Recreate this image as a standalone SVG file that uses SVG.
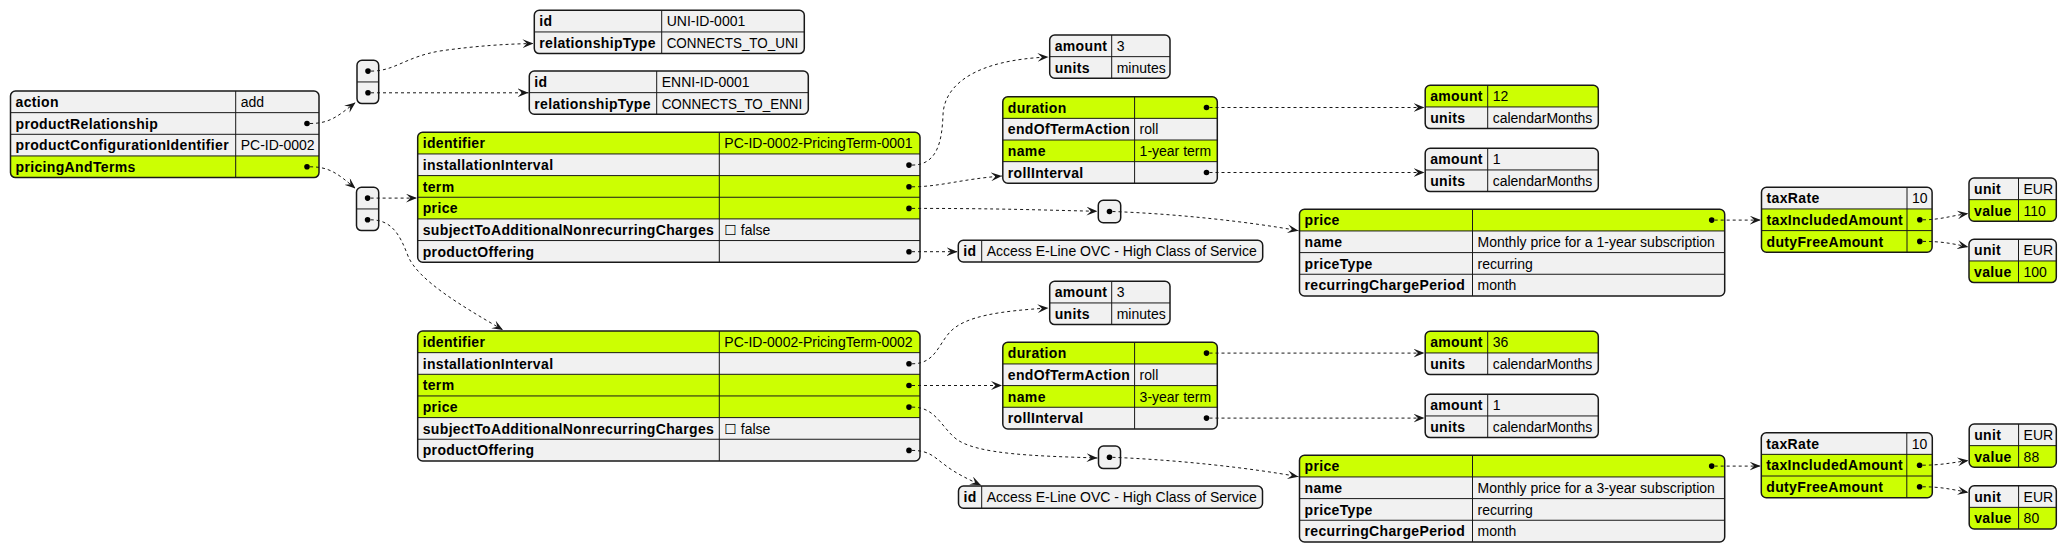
<svg xmlns="http://www.w3.org/2000/svg" width="2067" height="552" viewBox="0 0 2067 552">
<style>
.bx{fill:#F1F1F1;stroke:none}
.fr{fill:none;stroke:#181818;stroke-width:1.5}
.hl{fill:#CCFF02;stroke:none}
.ln{stroke:#181818;stroke-width:1;fill:none}
.k{font-family:"Liberation Sans",Arial,sans-serif;font-size:14px;font-weight:bold;letter-spacing:0.35px;fill:#000}
.v{font-family:"Liberation Sans","DejaVu Sans",Arial,sans-serif;font-size:14px;fill:#000}
.d{fill:#000}
.e{fill:none;stroke:#181818;stroke-width:1;stroke-dasharray:3,3;marker-end:url(#ah)}
</style>
<defs>
<marker id="ah" markerUnits="userSpaceOnUse" markerWidth="11" markerHeight="9" viewBox="0 0 10 8" refX="10" refY="4" orient="auto">
<path d="M0,0 L10,4 L0,8 L4,4 Z" fill="#181818"/>
</marker>
</defs>
<rect width="2067" height="552" fill="#FFFFFF"/>

<!-- root -->
<g id="root">
<rect class="bx" x="10.5" y="91" width="308.5" height="86.6" rx="5"/>
<rect class="hl" x="10.5" y="155.95" width="308.5" height="21.65" rx="5"/><rect class="hl" x="10.5" y="155.95" width="308.5" height="10"/>
<path class="ln" d="M10.5,112.65H319M10.5,134.3H319M10.5,155.95H319M235.7,91V177.6"/>
<rect class="fr" x="10.5" y="91" width="308.5" height="86.6" rx="5"/>
<text class="k" x="15.5" y="107">action</text>
<text class="k" x="15.5" y="128.65">productRelationship</text>
<text class="k" x="15.5" y="150.3">productConfigurationIdentifier</text>
<text class="k" x="15.5" y="171.95">pricingAndTerms</text>
<text class="v" x="240.7" y="107">add</text>
<text class="v" x="240.7" y="150.3">PC-ID-0002</text>
<circle class="d" cx="307" cy="123.5" r="2.8"/>
<circle class="d" cx="307" cy="166.8" r="2.8"/>
</g>

<g id="arrRel">
<rect class="bx" x="357" y="60.3" width="21.7" height="43.3" rx="5"/>
<path class="ln" d="M357,81.95H378.7"/>
<rect class="fr" x="357" y="60.3" width="21.7" height="43.3" rx="5"/>
<circle class="d" cx="368" cy="71.1" r="2.8"/>
<circle class="d" cx="368" cy="92.8" r="2.8"/>
</g>

<g id="arrPT">
<rect class="bx" x="356.5" y="187.3" width="22.2" height="43.3" rx="5"/>
<path class="ln" d="M356.5,208.95H378.7"/>
<rect class="fr" x="356.5" y="187.3" width="22.2" height="43.3" rx="5"/>
<circle class="d" cx="367.6" cy="198.1" r="2.8"/>
<circle class="d" cx="367.6" cy="219.8" r="2.8"/>
</g>

<g id="uni">
<rect class="bx" x="534.3" y="10.3" width="270" height="43.3" rx="5"/>
<path class="ln" d="M534.3,31.95H804.3M661.7,10.3V53.6"/>
<rect class="fr" x="534.3" y="10.3" width="270" height="43.3" rx="5"/>
<text class="k" x="539.3" y="26.3">id</text>
<text class="k" x="539.3" y="47.95">relationshipType</text>
<text class="v" x="666.7" y="26.3">UNI-ID-0001</text>
<text class="v" x="666.7" y="47.95" textLength="131.6" lengthAdjust="spacingAndGlyphs">CONNECTS_TO_UNI</text>
</g>

<g id="enni">
<rect class="bx" x="529.3" y="71" width="279" height="43.3" rx="5"/>
<path class="ln" d="M529.3,92.65H808.3M656.7,71V114.3"/>
<rect class="fr" x="529.3" y="71" width="279" height="43.3" rx="5"/>
<text class="k" x="534.3" y="87">id</text>
<text class="k" x="534.3" y="108.65">relationshipType</text>
<text class="v" x="661.7" y="87">ENNI-ID-0001</text>
<text class="v" x="661.7" y="108.65" textLength="140.6" lengthAdjust="spacingAndGlyphs">CONNECTS_TO_ENNI</text>
</g>

<g id="pt1">
<rect class="bx" x="417.7" y="132.3" width="502.3" height="129.9" rx="5"/>
<rect class="hl" x="417.7" y="132.3" width="502.3" height="21.65" rx="5"/><rect class="hl" x="417.7" y="137.3" width="502.3" height="16.65"/>
<rect class="hl" x="417.7" y="175.6" width="502.3" height="43.3"/>
<path class="ln" d="M417.7,153.95H920M417.7,175.6H920M417.7,197.25H920M417.7,218.9H920M417.7,240.55H920M719.3,132.3V262.2"/>
<rect class="fr" x="417.7" y="132.3" width="502.3" height="129.9" rx="5"/>
<text class="k" x="422.7" y="148.3">identifier</text>
<text class="k" x="422.7" y="169.95">installationInterval</text>
<text class="k" x="422.7" y="191.6">term</text>
<text class="k" x="422.7" y="213.25">price</text>
<text class="k" x="422.7" y="234.9">subjectToAdditionalNonrecurringCharges</text>
<text class="k" x="422.7" y="256.55">productOffering</text>
<text class="v" x="724.3" y="148.3">PC-ID-0002-PricingTerm-0001</text>
<text class="v" x="724.3" y="234.9">☐ false</text>
<circle class="d" cx="909" cy="165.1" r="2.8"/>
<circle class="d" cx="909" cy="186.8" r="2.8"/>
<circle class="d" cx="909" cy="208.4" r="2.8"/>
<circle class="d" cx="909" cy="251.7" r="2.8"/>
</g>

<g id="pt2">
<rect class="bx" x="417.7" y="331" width="502.3" height="129.9" rx="5"/>
<rect class="hl" x="417.7" y="331" width="502.3" height="21.65" rx="5"/><rect class="hl" x="417.7" y="336" width="502.3" height="16.65"/>
<rect class="hl" x="417.7" y="374.3" width="502.3" height="43.3"/>
<path class="ln" d="M417.7,352.65H920M417.7,374.3H920M417.7,395.95H920M417.7,417.6H920M417.7,439.25H920M719.3,331V460.9"/>
<rect class="fr" x="417.7" y="331" width="502.3" height="129.9" rx="5"/>
<text class="k" x="422.7" y="347">identifier</text>
<text class="k" x="422.7" y="368.65">installationInterval</text>
<text class="k" x="422.7" y="390.3">term</text>
<text class="k" x="422.7" y="411.95">price</text>
<text class="k" x="422.7" y="433.6">subjectToAdditionalNonrecurringCharges</text>
<text class="k" x="422.7" y="455.25">productOffering</text>
<text class="v" x="724.3" y="347">PC-ID-0002-PricingTerm-0002</text>
<text class="v" x="724.3" y="433.6">☐ false</text>
<circle class="d" cx="909" cy="363.8" r="2.8"/>
<circle class="d" cx="909" cy="385.5" r="2.8"/>
<circle class="d" cx="909" cy="407.1" r="2.8"/>
<circle class="d" cx="909" cy="450.4" r="2.8"/>
</g>

<g id="install1">
<rect class="bx" x="1049.7" y="35" width="120.3" height="43.3" rx="5"/>
<path class="ln" d="M1049.7,56.65H1170M1111.7,35V78.3"/>
<rect class="fr" x="1049.7" y="35" width="120.3" height="43.3" rx="5"/>
<text class="k" x="1054.7" y="51">amount</text>
<text class="k" x="1054.7" y="72.65">units</text>
<text class="v" x="1116.7" y="51">3</text>
<text class="v" x="1116.7" y="72.65">minutes</text>
</g>

<g id="term1">
<rect class="bx" x="1002.8" y="96.7" width="214.5" height="86.6" rx="5"/>
<rect class="hl" x="1002.8" y="96.7" width="214.5" height="21.65" rx="5"/><rect class="hl" x="1002.8" y="101.7" width="214.5" height="16.65"/>
<rect class="hl" x="1002.8" y="140" width="214.5" height="21.65"/>
<path class="ln" d="M1002.8,118.35H1217.3M1002.8,140H1217.3M1002.8,161.65H1217.3M1134.6,96.7V183.3"/>
<rect class="fr" x="1002.8" y="96.7" width="214.5" height="86.6" rx="5"/>
<text class="k" x="1007.8" y="112.7">duration</text>
<text class="k" x="1007.8" y="134.35">endOfTermAction</text>
<text class="k" x="1007.8" y="156">name</text>
<text class="k" x="1007.8" y="177.65">rollInterval</text>
<text class="v" x="1139.6" y="134.35">roll</text>
<text class="v" x="1139.6" y="156">1-year term</text>
<circle class="d" cx="1206.5" cy="107.5" r="2.8"/>
<circle class="d" cx="1206.5" cy="172.5" r="2.8"/>
</g>

<g id="duration1">
<rect class="bx" x="1425.2" y="85.3" width="173.1" height="43.3" rx="5"/>
<rect class="hl" x="1425.2" y="85.3" width="173.1" height="21.65" rx="5"/><rect class="hl" x="1425.2" y="90.3" width="173.1" height="16.65"/>
<path class="ln" d="M1425.2,106.95H1598.3M1487.7,85.3V128.6"/>
<rect class="fr" x="1425.2" y="85.3" width="173.1" height="43.3" rx="5"/>
<text class="k" x="1430.2" y="101.3">amount</text>
<text class="k" x="1430.2" y="122.95">units</text>
<text class="v" x="1492.7" y="101.3">12</text>
<text class="v" x="1492.7" y="122.95">calendarMonths</text>
</g>

<g id="roll1">
<rect class="bx" x="1425.2" y="148.3" width="173.1" height="43.3" rx="5"/>
<path class="ln" d="M1425.2,169.95H1598.3M1487.7,148.3V191.6"/>
<rect class="fr" x="1425.2" y="148.3" width="173.1" height="43.3" rx="5"/>
<text class="k" x="1430.2" y="164.3">amount</text>
<text class="k" x="1430.2" y="185.95">units</text>
<text class="v" x="1492.7" y="164.3">1</text>
<text class="v" x="1492.7" y="185.95">calendarMonths</text>
</g>

<g id="arrPrice1">
<rect class="bx" x="1098.3" y="200.3" width="22.4" height="22.4" rx="5"/>
<rect class="fr" x="1098.3" y="200.3" width="22.4" height="22.4" rx="5"/>
<circle class="d" cx="1109.5" cy="211.5" r="2.8"/>
</g>

<g id="offer1">
<rect class="bx" x="958.3" y="240.3" width="304.4" height="21.65" rx="5"/>
<path class="ln" d="M981.7,240.3V261.95"/>
<rect class="fr" x="958.3" y="240.3" width="304.4" height="21.65" rx="5"/>
<text class="k" x="963.3" y="256.3">id</text>
<text class="v" x="986.7" y="256.3">Access E-Line OVC - High Class of Service</text>
</g>

<g id="price1">
<rect class="bx" x="1299.5" y="209.3" width="425.2" height="86.6" rx="5"/>
<rect class="hl" x="1299.5" y="209.3" width="425.2" height="21.65" rx="5"/><rect class="hl" x="1299.5" y="214.3" width="425.2" height="16.65"/>
<path class="ln" d="M1299.5,230.95H1724.7M1299.5,252.6H1724.7M1299.5,274.25H1724.7M1472.5,209.3V295.9"/>
<rect class="fr" x="1299.5" y="209.3" width="425.2" height="86.6" rx="5"/>
<text class="k" x="1304.5" y="225.3">price</text>
<text class="k" x="1304.5" y="246.95">name</text>
<text class="k" x="1304.5" y="268.6">priceType</text>
<text class="k" x="1304.5" y="290.25">recurringChargePeriod</text>
<text class="v" x="1477.5" y="246.95">Monthly price for a 1-year subscription</text>
<text class="v" x="1477.5" y="268.6">recurring</text>
<text class="v" x="1477.5" y="290.25">month</text>
<circle class="d" cx="1711.7" cy="220.1" r="2.8"/>
</g>

<g id="tax1">
<rect class="bx" x="1761.5" y="187.3" width="170.6" height="64.95" rx="5"/>
<rect class="hl" x="1761.5" y="208.95" width="170.6" height="43.3" rx="5"/><rect class="hl" x="1761.5" y="208.95" width="170.6" height="38"/>
<path class="ln" d="M1761.5,208.95H1932.1M1761.5,230.6H1932.1M1907,187.3V252.25"/>
<rect class="fr" x="1761.5" y="187.3" width="170.6" height="64.95" rx="5"/>
<text class="k" x="1766.5" y="203.3">taxRate</text>
<text class="k" x="1766.5" y="224.95">taxIncludedAmount</text>
<text class="k" x="1766.5" y="246.6">dutyFreeAmount</text>
<text class="v" x="1912" y="203.3">10</text>
<circle class="d" cx="1919.8" cy="219.8" r="2.8"/>
<circle class="d" cx="1919.8" cy="241.4" r="2.8"/>
</g>

<g id="eur110">
<rect class="bx" x="1969" y="178" width="87.3" height="43.3" rx="5"/>
<rect class="hl" x="1969" y="199.65" width="87.3" height="21.65" rx="5"/><rect class="hl" x="1969" y="199.65" width="87.3" height="16"/>
<path class="ln" d="M1969,199.65H2056.3M2018.5,178V221.3"/>
<rect class="fr" x="1969" y="178" width="87.3" height="43.3" rx="5"/>
<text class="k" x="1974" y="194">unit</text>
<text class="k" x="1974" y="215.65">value</text>
<text class="v" x="2023.5" y="194">EUR</text>
<text class="v" x="2023.5" y="215.65">110</text>
</g>

<g id="eur100">
<rect class="bx" x="1969" y="239.3" width="87.3" height="43.3" rx="5"/>
<rect class="hl" x="1969" y="260.95" width="87.3" height="21.65" rx="5"/><rect class="hl" x="1969" y="260.95" width="87.3" height="16"/>
<path class="ln" d="M1969,260.95H2056.3M2018.5,239.3V282.6"/>
<rect class="fr" x="1969" y="239.3" width="87.3" height="43.3" rx="5"/>
<text class="k" x="1974" y="255.3">unit</text>
<text class="k" x="1974" y="276.95">value</text>
<text class="v" x="2023.5" y="255.3">EUR</text>
<text class="v" x="2023.5" y="276.95">100</text>
</g>

<g id="install2">
<rect class="bx" x="1049.7" y="281.3" width="120.3" height="43.3" rx="5"/>
<path class="ln" d="M1049.7,302.95H1170M1111.7,281.3V324.6"/>
<rect class="fr" x="1049.7" y="281.3" width="120.3" height="43.3" rx="5"/>
<text class="k" x="1054.7" y="297.3">amount</text>
<text class="k" x="1054.7" y="318.95">units</text>
<text class="v" x="1116.7" y="297.3">3</text>
<text class="v" x="1116.7" y="318.95">minutes</text>
</g>

<g id="term2">
<rect class="bx" x="1002.8" y="342.3" width="214.5" height="86.6" rx="5"/>
<rect class="hl" x="1002.8" y="342.3" width="214.5" height="21.65" rx="5"/><rect class="hl" x="1002.8" y="347.3" width="214.5" height="16.65"/>
<rect class="hl" x="1002.8" y="385.6" width="214.5" height="21.65"/>
<path class="ln" d="M1002.8,363.95H1217.3M1002.8,385.6H1217.3M1002.8,407.25H1217.3M1134.6,342.3V428.9"/>
<rect class="fr" x="1002.8" y="342.3" width="214.5" height="86.6" rx="5"/>
<text class="k" x="1007.8" y="358.3">duration</text>
<text class="k" x="1007.8" y="379.95">endOfTermAction</text>
<text class="k" x="1007.8" y="401.6">name</text>
<text class="k" x="1007.8" y="423.25">rollInterval</text>
<text class="v" x="1139.6" y="379.95">roll</text>
<text class="v" x="1139.6" y="401.6">3-year term</text>
<circle class="d" cx="1206.5" cy="353.1" r="2.8"/>
<circle class="d" cx="1206.5" cy="418.1" r="2.8"/>
</g>

<g id="duration2">
<rect class="bx" x="1425.2" y="331.3" width="173.1" height="43.3" rx="5"/>
<rect class="hl" x="1425.2" y="331.3" width="173.1" height="21.65" rx="5"/><rect class="hl" x="1425.2" y="336.3" width="173.1" height="16.65"/>
<path class="ln" d="M1425.2,352.95H1598.3M1487.7,331.3V374.6"/>
<rect class="fr" x="1425.2" y="331.3" width="173.1" height="43.3" rx="5"/>
<text class="k" x="1430.2" y="347.3">amount</text>
<text class="k" x="1430.2" y="368.95">units</text>
<text class="v" x="1492.7" y="347.3">36</text>
<text class="v" x="1492.7" y="368.95">calendarMonths</text>
</g>

<g id="roll2">
<rect class="bx" x="1425.2" y="394.3" width="173.1" height="43.3" rx="5"/>
<path class="ln" d="M1425.2,415.95H1598.3M1487.7,394.3V437.6"/>
<rect class="fr" x="1425.2" y="394.3" width="173.1" height="43.3" rx="5"/>
<text class="k" x="1430.2" y="410.3">amount</text>
<text class="k" x="1430.2" y="431.95">units</text>
<text class="v" x="1492.7" y="410.3">1</text>
<text class="v" x="1492.7" y="431.95">calendarMonths</text>
</g>

<g id="arrPrice2">
<rect class="bx" x="1098.5" y="446" width="22" height="22.6" rx="5"/>
<rect class="fr" x="1098.5" y="446" width="22" height="22.6" rx="5"/>
<circle class="d" cx="1109.5" cy="457.3" r="2.8"/>
</g>

<g id="offer2">
<rect class="bx" x="958.5" y="486" width="304" height="22.3" rx="5"/>
<path class="ln" d="M981.7,486V508.3"/>
<rect class="fr" x="958.5" y="486" width="304" height="22.3" rx="5"/>
<text class="k" x="963.5" y="502.2">id</text>
<text class="v" x="986.7" y="502.2">Access E-Line OVC - High Class of Service</text>
</g>

<g id="price2">
<rect class="bx" x="1299.5" y="455.3" width="425.2" height="86.6" rx="5"/>
<rect class="hl" x="1299.5" y="455.3" width="425.2" height="21.65" rx="5"/><rect class="hl" x="1299.5" y="460.3" width="425.2" height="16.65"/>
<path class="ln" d="M1299.5,476.95H1724.7M1299.5,498.6H1724.7M1299.5,520.25H1724.7M1472.5,455.3V541.9"/>
<rect class="fr" x="1299.5" y="455.3" width="425.2" height="86.6" rx="5"/>
<text class="k" x="1304.5" y="471.3">price</text>
<text class="k" x="1304.5" y="492.95">name</text>
<text class="k" x="1304.5" y="514.6">priceType</text>
<text class="k" x="1304.5" y="536.25">recurringChargePeriod</text>
<text class="v" x="1477.5" y="492.95">Monthly price for a 3-year subscription</text>
<text class="v" x="1477.5" y="514.6">recurring</text>
<text class="v" x="1477.5" y="536.25">month</text>
<circle class="d" cx="1711.7" cy="466.1" r="2.8"/>
</g>

<g id="tax2">
<rect class="bx" x="1761.3" y="432.7" width="171" height="64.95" rx="5"/>
<rect class="hl" x="1761.3" y="454.35" width="171" height="43.3" rx="5"/><rect class="hl" x="1761.3" y="454.35" width="171" height="38"/>
<path class="ln" d="M1761.3,454.35H1932.3M1761.3,476H1932.3M1906.8,432.7V497.65"/>
<rect class="fr" x="1761.3" y="432.7" width="171" height="64.95" rx="5"/>
<text class="k" x="1766.3" y="448.7">taxRate</text>
<text class="k" x="1766.3" y="470.35">taxIncludedAmount</text>
<text class="k" x="1766.3" y="492">dutyFreeAmount</text>
<text class="v" x="1911.8" y="448.7">10</text>
<circle class="d" cx="1919.6" cy="465.2" r="2.8"/>
<circle class="d" cx="1919.6" cy="486.8" r="2.8"/>
</g>

<g id="eur88">
<rect class="bx" x="1969.2" y="424" width="87.1" height="43.3" rx="5"/>
<rect class="hl" x="1969.2" y="445.65" width="87.1" height="21.65" rx="5"/><rect class="hl" x="1969.2" y="445.65" width="87.1" height="16"/>
<path class="ln" d="M1969.2,445.65H2056.3M2018.6,424V467.3"/>
<rect class="fr" x="1969.2" y="424" width="87.1" height="43.3" rx="5"/>
<text class="k" x="1974.2" y="440">unit</text>
<text class="k" x="1974.2" y="461.65">value</text>
<text class="v" x="2023.6" y="440">EUR</text>
<text class="v" x="2023.6" y="461.65">88</text>
</g>

<g id="eur80">
<rect class="bx" x="1969.2" y="485.7" width="87.1" height="43.3" rx="5"/>
<rect class="hl" x="1969.2" y="507.35" width="87.1" height="21.65" rx="5"/><rect class="hl" x="1969.2" y="507.35" width="87.1" height="16"/>
<path class="ln" d="M1969.2,507.35H2056.3M2018.6,485.7V529"/>
<rect class="fr" x="1969.2" y="485.7" width="87.1" height="43.3" rx="5"/>
<text class="k" x="1974.2" y="501.7">unit</text>
<text class="k" x="1974.2" y="523.35">value</text>
<text class="v" x="2023.6" y="501.7">EUR</text>
<text class="v" x="2023.6" y="523.35">80</text>
</g>

<g id="connectors">
<path class="e" d="M310,123.5 C330,123.5 338,116 355.5,102.5"/>
<path class="e" d="M310,166.8 C330,166.8 338,174 355.5,188.5"/>
<path class="e" d="M371,71.1 C395,71.1 405,57 440,51 C475,46 505,44 533.5,43.5"/>
<path class="e" d="M371,92.8 L528.5,92.8"/>
<path class="e" d="M370.6,198.1 L417,198.1"/>
<path class="e" d="M370.6,219.8 C392,219.8 400,235 408,256 C418,280 460,305 503,330"/>
<path class="e" d="M912,165.1 C938,165.1 942,140 943,115 C944,85 975,60 1048.5,57"/>
<path class="e" d="M912,186.8 C940,186.8 962,179 1002,176"/>
<path class="e" d="M912,208.4 C1000,208.4 1040,210 1097.5,211.3"/>
<path class="e" d="M912,251.7 L957.5,251.7"/>
<path class="e" d="M1112.5,211.5 C1180,214 1250,222 1298.5,230.7"/>
<path class="e" d="M1209.5,107.5 L1424.5,107.5"/>
<path class="e" d="M1209.5,172.5 L1424.5,172.5"/>
<path class="e" d="M1714.7,220.1 L1760.8,220.1"/>
<path class="e" d="M1922.8,219.8 C1940,219.8 1950,216 1968.3,213.5"/>
<path class="e" d="M1922.8,241.4 C1940,241.4 1950,243 1968.3,247"/>
<path class="e" d="M912,363.8 C935,363.8 938,345 950,332 C965,316 1000,311 1048.5,308"/>
<path class="e" d="M912,385.5 L1002,385.5"/>
<path class="e" d="M912,407.1 C935,407.1 940,425 955,438 C975,455 1040,456 1097.5,458"/>
<path class="e" d="M912,450.4 C930,450.4 935,458 945,465 C955,473 968,479 981,485.3"/>
<path class="e" d="M1112.5,457.3 C1180,460 1250,468 1298.5,476.7"/>
<path class="e" d="M1209.5,353.1 L1424.5,353.1"/>
<path class="e" d="M1209.5,418.1 L1424.5,418.1"/>
<path class="e" d="M1714.7,466.1 L1760.6,466.1"/>
<path class="e" d="M1922.6,465.2 C1940,465.2 1950,463 1968.5,460.5"/>
<path class="e" d="M1922.6,486.8 C1940,486.8 1950,489 1968.5,492.5"/>
</g>
</svg>
